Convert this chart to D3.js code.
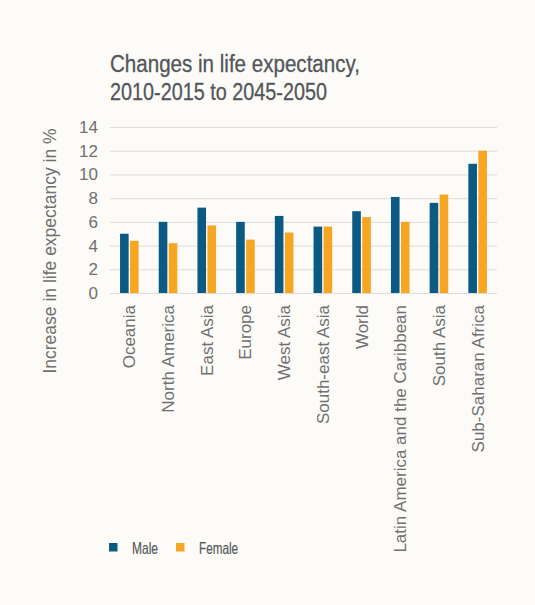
<!DOCTYPE html>
<html><head><meta charset="utf-8">
<script src="https://cdn.jsdelivr.net/npm/d3@7"></script>
<style>
html,body{margin:0;padding:0;background:#fcfbf7;}
svg{display:block;}
</style></head>
<body>
<svg id="c" width="535" height="605"></svg>
<script>
const categories = ["Oceania","North America","East Asia","Europe","West Asia","South-east Asia","World","Latin America and the Caribbean","South Asia","Sub-Saharan Africa"];
const male   = [5.0, 6.0, 7.2, 6.0, 6.5, 5.6, 6.9, 8.1, 7.6, 10.9];
const female = [4.4, 4.2, 5.7, 4.5, 5.1, 5.6, 6.4, 6.0, 8.3, 12.0];
const seriesNames = ["Male","Female"];
const yTicks = [0,2,4,6,8,10,12,14];
const titleLines = ["Changes in life expectancy,","2010-2015 to 2045-2050"];
const yLabel = "Increase in life expectancy in %";

const colors = ["#0b5a84","#f6a623"];
const svg = d3.select("#c");
const L = 110, R = 497, T = 127, B = 293;
const sans = "'Liberation Sans',Arial,Helvetica,sans-serif";

const x = d3.scaleBand().domain(categories).range([L,R]).paddingInner(0).paddingOuter(0);
const y = d3.scaleLinear().domain([0,14]).range([B,T]);
const bw = 8.6, gap = 1.4;

// title (condensed look via textLength)
const titleLens = [250, 217];
titleLines.forEach((t,i)=>{
  svg.append("text").attr("x",110).attr("y",72 + i*28)
    .attr("font-family",sans).attr("font-size",23.5).attr("fill","#53565a")
    .attr("stroke","#53565a").attr("stroke-width",0.3)
    .attr("textLength",titleLens[i]).attr("lengthAdjust","spacingAndGlyphs")
    .text(t);
});

// grid + y ticks
const yAxis = d3.axisLeft(y).tickValues(yTicks).tickSize(-(R-L)).tickPadding(12);
const gy = svg.append("g").attr("transform",`translate(${L},0)`).call(yAxis);
gy.select(".domain").remove();
gy.selectAll(".tick line").attr("stroke","#dcdcdc").attr("stroke-width",1);
gy.selectAll(".tick text").attr("font-family",sans)
  .attr("font-size",17).attr("fill","#707070");

// bars
const g = svg.append("g");
categories.forEach((c,i)=>{
  const cx = x(c) + x.bandwidth()/2;
  [male[i], female[i]].forEach((v,j)=>{
    const x0 = j===0 ? cx - gap/2 - bw : cx + gap/2;
    g.append("rect").attr("x",x0).attr("y",y(v)).attr("width",bw)
      .attr("height",y(0)-y(v)).attr("fill",colors[j]);
  });
});

// x labels
const xAxis = d3.axisBottom(x).tickSize(0).tickPadding(0);
const gx = svg.append("g").attr("transform",`translate(0,${B})`).call(xAxis);
gx.select(".domain").remove();
gx.selectAll(".tick text")
  .attr("font-family",sans).attr("font-size",17).attr("fill","#707070")
  .attr("text-anchor","end").attr("dy","0.35em")
  .attr("transform","translate(0,12) rotate(-90)").attr("x",0).attr("y",0);

// y label
svg.append("text").attr("transform","translate(56,251) rotate(-90)")
  .attr("text-anchor","middle").attr("font-family",sans)
  .attr("font-size",17.5).attr("fill","#707070").text(yLabel);

// legend
const lg = svg.append("g");
const lx = [109,176];
const legLens = [26, 39];
seriesNames.forEach((s,i)=>{
  lg.append("rect").attr("x",lx[i]).attr("y",543).attr("width",8.5).attr("height",8.5).attr("fill",colors[i]);
  lg.append("text").attr("x",lx[i]+23).attr("y",553.5)
    .attr("font-family",sans).attr("font-size",16.5).attr("fill","#55585c")
    .attr("stroke","#55585c").attr("stroke-width",0.2)
    .attr("textLength",legLens[i]).attr("lengthAdjust","spacingAndGlyphs").text(s);
});
</script>
</body></html>
